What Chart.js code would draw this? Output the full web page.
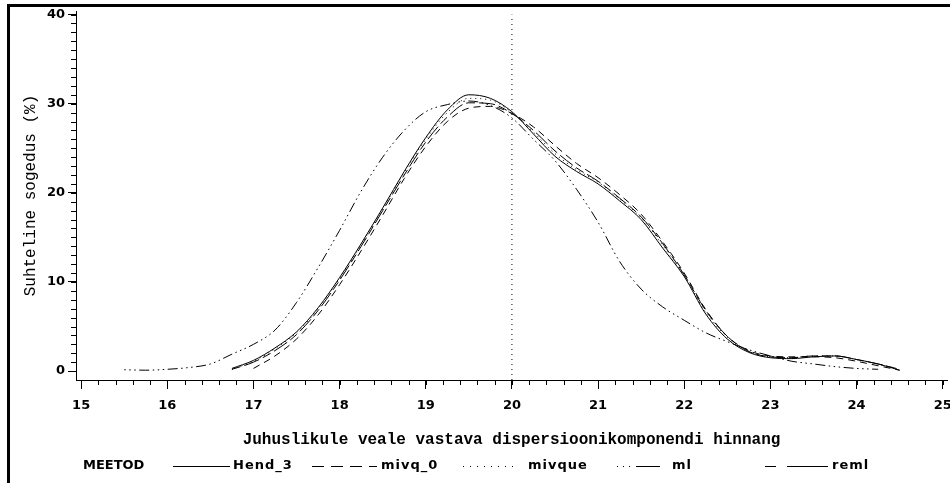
<!DOCTYPE html>
<html>
<head>
<meta charset="utf-8">
<script src="https://cdn.jsdelivr.net/npm/chart.js@4.4.0/dist/chart.umd.min.js"></script>
<style>
  html, body { margin: 0; padding: 0; background: #fff; overflow: hidden; width: 950px; height: 483px; }
  #wrap { position: absolute; left: 0; top: 0; width: 1000px; height: 483px; }
  #frame { position: absolute; left: 7px; top: 4px; width: 980px; height: 520px;
           border-left: 3px solid #000; border-top: 3px solid #000; pointer-events: none; }
</style>
</head>
<body>
<div id="wrap"><canvas id="chart" width="1000" height="483"></canvas></div>
<div id="frame"></div>
<script>
// Estimate grid (x) shared by all methods
const xGrid = [15.5, 15.75, 16, 16.25, 16.5, 16.75, 17, 17.25, 17.5, 17.75,
               18, 18.25, 18.5, 18.75, 19, 19.25, 19.5, 19.75, 20, 20.25,
               20.5, 20.75, 21, 21.25, 21.5, 21.75, 22, 22.25, 22.5, 22.75,
               23, 23.25, 23.5, 23.75, 24, 24.25, 24.5];

// Relative frequency (%) per method, null = no estimate there
const hend3 = [null, null, null, null, null, 0.3, 1.2, 2.6, 4.4, 7.1,
               10.5, 14.3, 18.3, 22.4, 26.2, 29.3, 31.0, 30.6, 29.1, 26.6,
               24.1, 22.4, 21.0, 19.1, 17.0, 13.8, 10.6, 6.4, 3.6, 2.1,
               1.5, 1.4, 1.6, 1.7, 1.3, 0.8, 0.1];
const mivq0 = [null, null, null, null, null, null, 0.3, 1.7, 3.6, 6.3,
               9.7, 13.5, 17.5, 21.6, 25.2, 28.0, 29.5, 29.7, 28.9, 27.4,
               25.3, 23.3, 21.7, 19.8, 17.6, 14.5, 11.0, 6.9, 3.9, 2.3,
               1.7, 1.6, 1.6, 1.5, 1.1, 0.6, 0.1];
const mivque = [null, null, null, null, null, 0.2, 1.1, 2.5, 4.3, 7.0,
                10.4, 14.2, 18.2, 22.3, 26.0, 29.0, 30.6, 30.4, 29.0, 26.8,
                24.4, 22.6, 21.2, 19.3, 17.2, 14.1, 10.7, 6.6, 3.8, 2.2,
                1.6, 1.5, 1.7, 1.7, 1.3, 0.8, 0.2];
const ml = [0.15, 0.1, 0.2, 0.4, 0.8, 1.9, 3.0, 4.6, 7.7, 11.6,
            15.8, 20.2, 24.0, 27.0, 29.1, 29.9, 30.3, 29.8, 28.4, 26.0,
            23.6, 20.4, 16.7, 12.3, 9.2, 7.2, 5.7, 4.3, 3.3, 2.4,
            1.7, 1.1, 0.8, 0.5, 0.3, 0.2, null];
const reml = [null, null, null, null, null, 0.2, 1.0, 2.3, 4.1, 6.8,
              10.2, 14.0, 18.0, 22.0, 25.7, 28.5, 30.1, 30.0, 28.9, 27.0,
              24.7, 22.8, 21.3, 19.4, 17.3, 14.3, 10.8, 6.8, 3.9, 2.2,
              1.6, 1.5, 1.7, 1.7, 1.3, 0.8, 0.2];

const methodNames = ['Hend_3', 'mivq_0', 'mivque', 'ml', 'reml'];
const methodValues = [hend3, mivq0, mivque, ml, reml];

// reference line at the true value
const refX = [20, 20];
const refY = [-1, 40];

const xTickLabels = [15, 16, 17, 18, 19, 20, 21, 22, 23, 24, 25];
const yTickLabels = [0, 10, 20, 30, 40];

const xTitle = 'Juhuslikule veale vastava dispersioonikomponendi hinnang';
const yTitle = 'Suhteline sogedus (%)';
const legendTitle = 'MEETOD';

// line patterns, SAS style
const plotDash = [[], [7, 5], [1, 4], [1.5, 3.5, 1.5, 3.5, 1.5, 3.5, 10, 3.5], [9, 4, 16, 4]];
// legend sample placement (pixels)
const legendSlots = [
  { x0: 173, x1: 230, tx: 233, dash: [] },
  { x0: 312, x1: 377, tx: 381, dash: [12, 7] },
  { x0: 463, x1: 517, tx: 528, dash: [1, 6] },
  { x0: 617, x1: 667, tx: 672, dash: [1, 5, 1, 5, 1, 6, 24, 10] },
  { x0: 765, x1: 828, tx: 832, dash: [11, 11, 44, 10] }
];
const LEGEND_Y = 466;

function toPoints(ys) {
  return xGrid.map((x, i) => ({ x: x, y: ys[i] })).filter(p => p.y !== null);
}

const datasets = methodNames.map((name, i) => ({
  label: name,
  data: toPoints(methodValues[i]),
  borderColor: '#000',
  borderWidth: 1,
  borderDash: plotDash[i],
  pointRadius: 0,
  fill: false,
  cubicInterpolationMode: 'monotone'
}));

datasets.push({
  label: 'ref',
  data: refX.map((x, i) => ({ x: x, y: refY[i] })),
  borderColor: '#000',
  borderWidth: 1,
  borderDash: [1, 4],
  pointRadius: 0,
  fill: false
});

// small ticks between the labelled ones
const minorTicks = {
  id: 'minorTicks',
  afterDraw(chart) {
    const ctx = chart.ctx;
    const xs = chart.scales.x, ys = chart.scales.y;
    ctx.save();
    ctx.strokeStyle = '#000';
    ctx.lineWidth = 1;
    ctx.beginPath();
    for (let k = 0; k <= 50; k++) {
      const px = Math.round(xs.getPixelForValue(15 + k * 0.2)) + 0.5;
      ctx.moveTo(px, ys.bottom);
      ctx.lineTo(px, ys.bottom + 5);
    }
    for (let v = 0; v <= 40; v++) {
      const py = Math.round(ys.getPixelForValue(v)) + 0.5;
      ctx.moveTo(xs.left - 5, py);
      ctx.lineTo(xs.left, py);
    }
    ctx.stroke();
    ctx.restore();
  }
};

// legend row like the SAS output: "MEETOD  ---- name  ..."
const sasLegend = {
  id: 'sasLegend',
  afterDraw(chart) {
    const ctx = chart.ctx;
    ctx.save();
    ctx.fillStyle = '#000';
    ctx.strokeStyle = '#000';
    ctx.textBaseline = 'middle';
    ctx.font = 'bold 13px "DejaVu Sans"';
    ctx.fillText(legendTitle, 83, LEGEND_Y);
    legendSlots.forEach((s, i) => {
      ctx.beginPath();
      ctx.lineWidth = 1;
      ctx.setLineDash(s.dash);
      ctx.moveTo(s.x0, LEGEND_Y + 0.5);
      ctx.lineTo(s.x1, LEGEND_Y + 0.5);
      ctx.stroke();
      ctx.setLineDash([]);
      ctx.letterSpacing = '1px';
      ctx.fillText(chart.data.datasets[i].label, s.tx, LEGEND_Y);
      ctx.letterSpacing = '0px';
    });
    ctx.restore();
  }
};

new Chart(document.getElementById('chart'), {
  type: 'line',
  data: { datasets: datasets },
  options: {
    responsive: false,
    animation: false,
    devicePixelRatio: 1,
    layout: { padding: { top: 11, right: 53, bottom: 0, left: 0 } },
    plugins: {
      legend: { display: false },
      tooltip: { enabled: false }
    },
    scales: {
      x: {
        type: 'linear',
        min: 14.94,
        max: 25.05,
        afterBuildTicks: s => { s.ticks = xTickLabels.map(v => ({ value: v })); },
        afterFit: s => { s.height = 103; },
        border: { display: true, color: '#000', width: 1 },
        grid: { display: true, drawOnChartArea: false, drawTicks: true, tickLength: 9, tickColor: '#000' },
        ticks: {
          color: '#000',
          padding: 9,
          maxRotation: 0,
          autoSkip: false,
          font: { family: 'DejaVu Sans', size: 13, weight: 'bold' }
        },
        title: {
          display: true,
          text: xTitle,
          color: '#000',
          padding: { top: 0, bottom: 33 },
          font: { family: 'Liberation Mono', size: 16, weight: 'bold' }
        }
      },
      y: {
        type: 'linear',
        min: -1,
        max: 40.4,
        afterBuildTicks: s => { s.ticks = yTickLabels.map(v => ({ value: v })); },
        afterFit: s => { s.width = 76; },
        border: { display: true, color: '#000', width: 1 },
        grid: { display: true, drawOnChartArea: false, drawTicks: true, tickLength: 8, tickColor: '#000' },
        ticks: {
          color: '#000',
          padding: 3,
          font: { family: 'DejaVu Sans', size: 13, weight: 'bold' }
        },
        title: {
          display: true,
          text: yTitle,
          color: '#000',
          padding: { top: 21, bottom: 0 },
          font: { family: 'Liberation Mono', size: 16 }
        }
      }
    }
  },
  plugins: [minorTicks, sasLegend]
});
</script>
</body>
</html>
